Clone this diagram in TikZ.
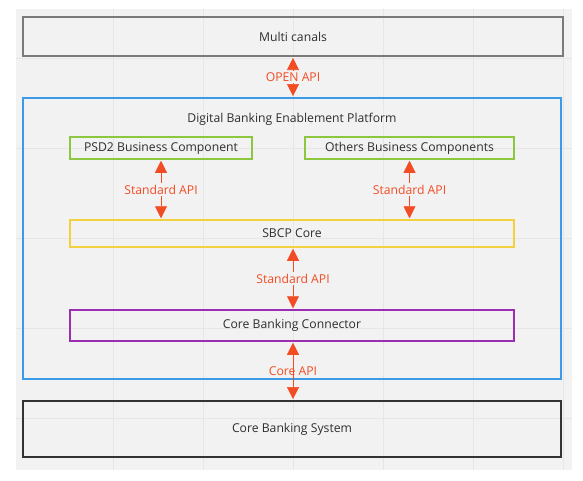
\documentclass[tikz,border=0pt]{standalone}
\usepackage{fontspec}
\setmainfont{Open Sans}
\usetikzlibrary{arrows.meta,positioning}
\definecolor{bgcol}{HTML}{F2F2F2}
\definecolor{gridcol}{HTML}{E6E6E6}
\definecolor{apired}{HTML}{F24C24}
\definecolor{txtcol}{HTML}{2E2E2E}
\definecolor{greycol}{HTML}{7A7A7A}
\definecolor{bluecol}{HTML}{3C9BE8}
\definecolor{greencol}{HTML}{8DC63F}
\definecolor{yellowcol}{HTML}{F3D03E}
\definecolor{purplecol}{HTML}{9C2EB2}
\definecolor{darkcol}{HTML}{333333}

\begin{document}
\begin{tikzpicture}[x=1pt,y=-1pt,
  font=\fontsize{12.2}{14}\selectfont, text=txtcol,
  box/.style={draw=#1,line width=1.5pt,inner sep=0pt,text=txtcol},
  api/.style={draw=apired,line width=0.6pt,
    {Triangle[width=12pt,length=12pt]}-{Triangle[width=12pt,length=12pt]},
    shorten <=1pt,shorten >=1pt},
  apilabel/.style={fill=bgcol,text=apired,inner sep=1.5pt}]
  \useasboundingbox (0,0) rectangle (583,480);
  % 背景
  \fill[bgcol] (16,9) rectangle (572,470);
  \foreach \gx in {113,203,...,563} \draw[gridcol,line width=0.6pt] (\gx,9) -- (\gx,470);
  \foreach \gy in {58,148,...,418} \draw[gridcol,line width=0.6pt] (16,\gy) -- (572,\gy);

  % 外层
  \node[box=greycol,line width=2pt,minimum width=540pt,minimum height=39pt] (multi) at (293,36.5) {Multi canals};
  \node[box=bluecol,line width=1.8pt,minimum width=538pt,minimum height=281pt] (dbep) at (292,238.5) {};
  \node[below=13pt of dbep.north] (dbeptitle) {Digital Banking Enablement Platform};
  \node[box=darkcol,line width=1.8pt,minimum width=538pt,minimum height=56pt] (cbs) at (292,429) {Core Banking System};

  % 内层
  \node[box=greencol,minimum width=182pt,minimum height=22pt] (psd2) at (161,148) {PSD2 Business Component};
  \node[box=greencol,minimum width=209pt,minimum height=22pt] (others) at (409.5,148) {Others Business Components};
  \node[box=yellowcol,minimum width=444pt,minimum height=27pt] (sbcp) at (292,233.5) {SBCP Core};
  \node[box=purplecol,minimum width=444pt,minimum height=31pt] (conn) at (292,325.5) {Core Banking Connector};

  % 接口
  \draw[api] (multi.south) -- node[apilabel] {OPEN API} (multi.south |- dbep.north);
  \draw[api] (psd2.south) -- node[apilabel] {Standard API} (psd2.south |- sbcp.north);
  \draw[api] (others.south) -- node[apilabel] {Standard API} (others.south |- sbcp.north);
  \draw[api] (sbcp.south -| multi.south) -- node[apilabel] {Standard API} (conn.north -| multi.south);
  \draw[api] (conn.south -| multi.south) -- node[apilabel,fill=none,pos=0.5] {Core API} (cbs.north -| multi.south);
\end{tikzpicture}
\end{document}
